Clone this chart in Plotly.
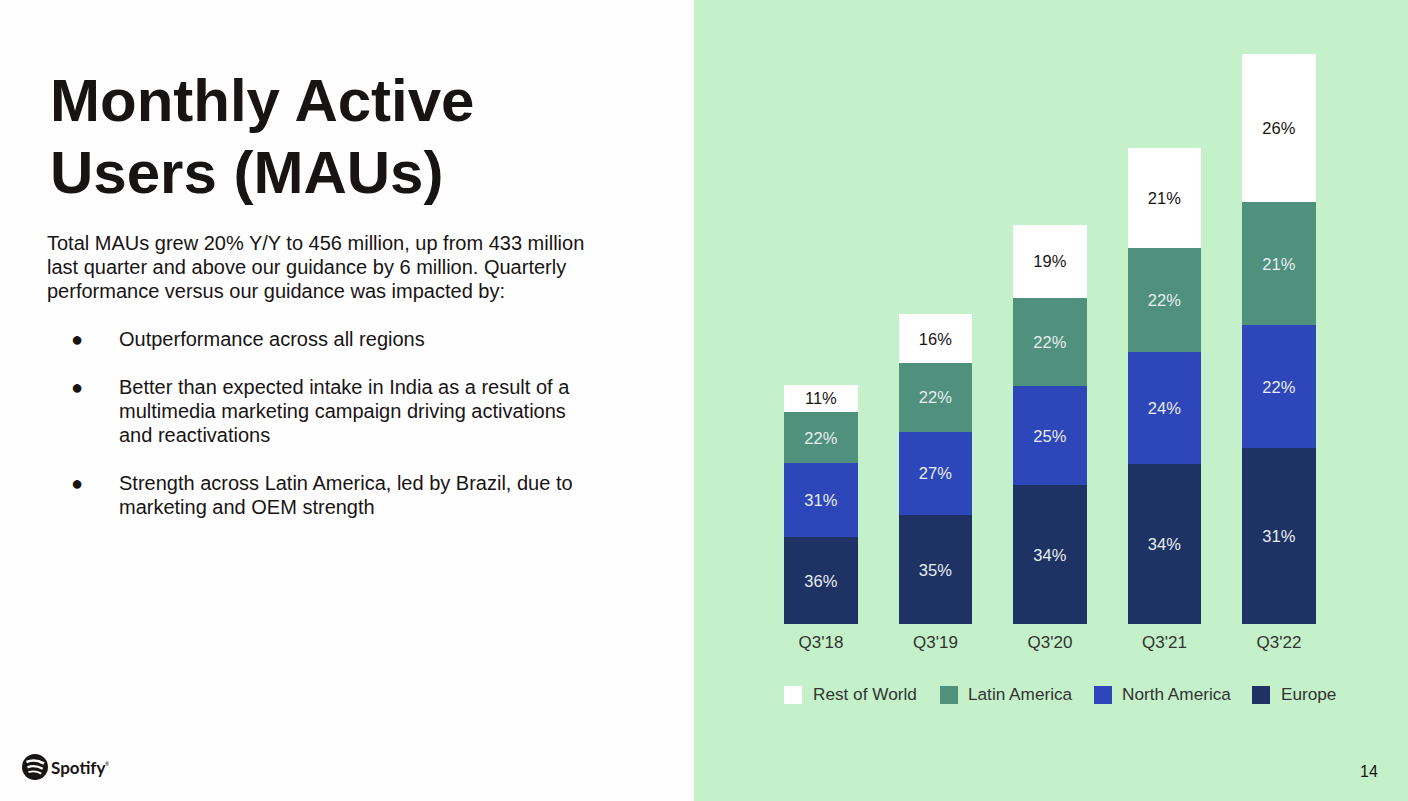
import plotly.graph_objects as go

W, H = 1408, 801
quarters = ["Q3'18", "Q3'19", "Q3'20", "Q3'21", "Q3'22"]
europe = [69.6, 87, 111, 128, 141]
north_america = [59, 67, 79.5, 90, 98]
latin_america = [41, 54.5, 70.5, 83, 98.5]
rest_of_world = [22, 39.5, 58.5, 80, 118.5]
europe_pct = ["36%", "35%", "34%", "34%", "31%"]
north_america_pct = ["31%", "27%", "25%", "24%", "22%"]
latin_america_pct = ["22%", "22%", "22%", "22%", "21%"]
rest_of_world_pct = ["11%", "16%", "19%", "21%", "26%"]
title_lines = ["Monthly Active", "Users (MAUs)"]
intro_lines = [
    "Total MAUs grew 20% Y/Y to 456 million, up from 433 million",
    "last quarter and above our guidance by 6 million. Quarterly",
    "performance versus our guidance was impacted by:",
]
bullets = [
    ["Outperformance across all regions"],
    ["Better than expected intake in India as a result of a",
     "multimedia marketing campaign driving activations",
     "and reactivations"],
    ["Strength across Latin America, led by Brazil, due to",
     "marketing and OEM strength"],
]

C_EU, C_NA, C_LA, C_RW = "#1e3264", "#2d46b9", "#4f917c", "#ffffff"
GREEN = "#c4f1c9"
INK = "#191414"
FONT = "Liberation Sans"


def px(x):
    return x / W


def py(y):
    return 1 - y / H


def label(x, y, text, size, color=INK, bold=False, anchor="left", family=FONT):
    return dict(
        x=px(x), y=py(y), xref="paper", yref="paper", text=f"<b>{text}</b>" if bold else text,
        showarrow=False, xanchor=anchor, yanchor="middle",
        font=dict(family=family, size=size, color=color), borderpad=0, borderwidth=0,
    )


fig = go.Figure()
series = [
    ("Europe", europe, europe_pct, C_EU, "#e8edf2"),
    ("North America", north_america, north_america_pct, C_NA, "#e8edf2"),
    ("Latin America", latin_america, latin_america_pct, C_LA, "#e8edf2"),
    ("Rest of World", rest_of_world, rest_of_world_pct, C_RW, "#191414"),
]
for name, vals, pct, col, tcol in series:
    fig.add_trace(go.Bar(
        name=name, x=quarters, y=vals, text=pct, marker=dict(color=col, line=dict(width=0)),
        textposition="inside", insidetextanchor="middle", textangle=0,
        textfont=dict(family=FONT, size=16.5, color=tcol), hoverinfo="skip", showlegend=False,
    ))

annotations = []
for i, line in enumerate(title_lines):
    annotations.append(label(50, 101 + i * 72, line, 60, bold=True))
for i, line in enumerate(intro_lines):
    annotations.append(label(47, 242.6 + i * 24, line, 20))
y = 338.6
for group in bullets:
    annotations.append(label(71, y, "●", 20))
    for line in group:
        annotations.append(label(119, y, line, 20))
        y += 24
    y += 24
annotations.append(label(1369, 771, "14", 16, anchor="center"))
annotations.append(label(51, 767.5, "Spotify", 17, bold=True, family="Lato"))
annotations.append(label(105, 764, "®", 5, family="Lato"))

shapes = [
    dict(type="rect", xref="paper", yref="paper", x0=px(694), x1=1, y0=0, y1=1,
         fillcolor=GREEN, line_width=0, layer="below"),
    dict(type="circle", xref="paper", yref="paper", x0=px(22), x1=px(48), y0=py(780), y1=py(754),
         fillcolor=INK, line_width=0),
]
for (x0, y0, cx, cy, x1, y1, lw) in [
    (26.5, 762, 35, 758.5, 44, 763.5, 2.6),
    (27.5, 767.3, 35, 764.5, 42.7, 768.8, 2.3),
    (28.5, 772.2, 35, 770, 41.3, 773.6, 1.9),
]:
    path = f"M{px(x0)},{py(y0)} Q{px(cx)},{py(cy)} {px(x1)},{py(y1)}"
    shapes.append(dict(type="path", xref="paper", yref="paper", path=path,
                       line=dict(color="#ffffff", width=lw)))

for lx, tx, name, col in [
    (784, 813, "Rest of World", C_RW),
    (940, 968, "Latin America", C_LA),
    (1094, 1122, "North America", C_NA),
    (1252, 1281, "Europe", C_EU),
]:
    shapes.append(dict(type="rect", xref="paper", yref="paper", x0=px(lx), x1=px(lx + 18),
                       y0=py(704), y1=py(686), fillcolor=col, line_width=0))
    annotations.append(label(tx, 694.4, name, 17.2, color="#333333"))

fig.update_layout(
    width=W, height=H, margin=dict(l=0, r=0, t=0, b=0), autosize=False,
    paper_bgcolor="#fefefe", plot_bgcolor="rgba(0,0,0,0)",
    barmode="stack", bargap=0.354, barcornerradius=2, showlegend=False,
    annotations=annotations, shapes=shapes,
    xaxis=dict(domain=[px(763.75), px(1336.25)], showgrid=False, zeroline=False, showline=False,
               ticks="", ticklabelstandoff=6,
               tickfont=dict(family=FONT, size=17, color="#333333")),
    yaxis=dict(domain=[py(624), py(24)], range=[0, 480], visible=False),
)
fig.write_html("out.html", config=dict(displayModeBar=False),
               post_script="document.body.style.margin='0';")
